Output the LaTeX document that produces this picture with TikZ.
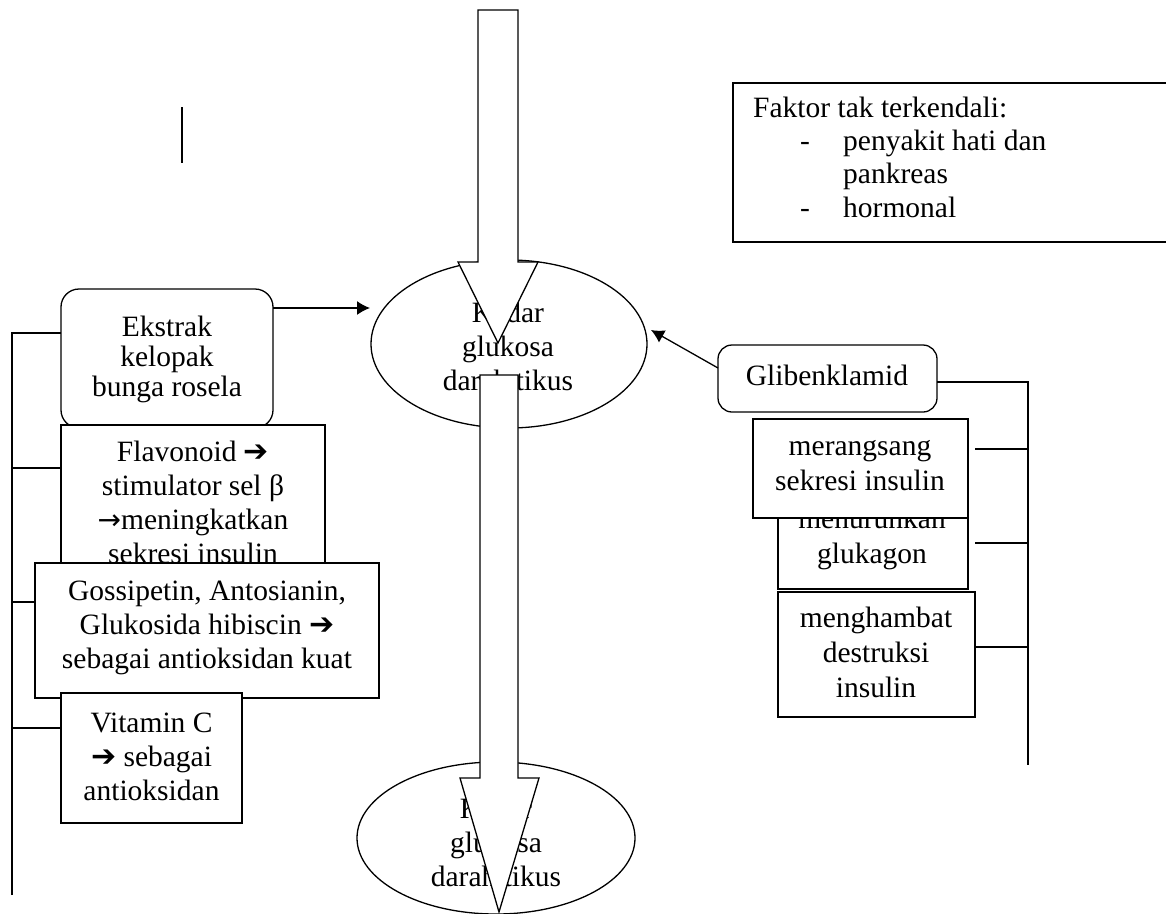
\documentclass[tikz,border=0pt]{standalone}
\usepackage{fontspec}
\setmainfont{Liberation Serif}
\newfontfamily\arrowfont{DejaVu Sans}
\usetikzlibrary{shapes.geometric,arrows.meta}
\newcommand\thickarr{{\arrowfont\fontsize{30}{34}\selectfont ➔}}
\newcommand\thinarr{{\arrowfont\fontsize{28}{34}\selectfont →}}
\tikzset{
  every node/.style={font=\fontsize{29.5}{34}\selectfont},
  box/.style={draw, fill=white, line width=1.3pt, inner sep=0pt, outer sep=0pt},
  rbox/.style={box, rounded corners=18pt},
  ell/.style={draw, fill=white, ellipse, line width=1.3pt, inner sep=0pt, outer sep=0pt},
  txt/.style={align=center, anchor=base, inner sep=0pt},
  ltxt/.style={anchor=base west, inner sep=0pt},
  ln/.style={line width=1.3pt},
  arr/.style={line width=1.3pt, -{Latex[length=13pt,width=14pt]}},
  bigarrow/.style={draw, fill=white, line width=1.3pt, line join=miter},
}
\begin{document}
\begin{tikzpicture}[x=1pt,y=-1pt]
\useasboundingbox (0,0) rectangle (1166,913);
\clip (0,0) rectangle (1166,913);
\fill[white] (0,0) rectangle (1166,913);

% short vertical line
\coordinate (s1) at (182,107);
\coordinate (s2) at (182,163);
\draw[ln] (s1) -- (s2);

% Faktor box
\node[box, minimum width=442pt, minimum height=159pt] (faktor) at (954,162.5) {};
\node[ltxt] (f1) at (753,117) {Faktor tak terkendali:};
\node[ltxt] (f2) at (800,150) {-};
\node[ltxt] (f3) at (843,150) {penyakit hati dan};
\node[ltxt] (f4) at (843,183) {pankreas};
\node[ltxt] (f5) at (800,217) {-};
\node[ltxt] (f6) at (843,217) {hormonal};

% ellipses (text anchor = baseline of last line)
\node[ell, minimum width=276pt, minimum height=168pt] (kadar1) at (509,344) {};
\node[txt] (k1t) at (508,390) {Kadar\\glukosa\\darah tikus};
\node[ell, minimum width=278pt, minimum height=152pt] (kadar2) at (496,838) {};
\node[txt] (k2t) at (496,886) {Kadar\\glukosa\\darah tikus};

% big arrows
\draw[bigarrow] (478,10) -- (518,10) -- (518,262) -- (538,262) -- (498,343) -- (458,262) -- (478,262) -- cycle;
\draw[bigarrow] (480,375) -- (518,375) -- (518,778) -- (539,778) -- (499,912) -- (460,778) -- (480,778) -- cycle;

% left side boxes
\node[rbox, minimum width=212pt, minimum height=139pt] (ekstrak) at (167,358.5) {};
\node[txt, font=\fontsize{29.5}{30}\selectfont] (ekt) at (167,396) {Ekstrak\\kelopak\\bunga rosela};
\node[box, minimum width=264pt, minimum height=185pt] (flav) at (193,517.5) {};
\node[txt, font=\fontsize{29.5}{33.7}\selectfont] (flt) at (193,563) {Flavonoid \thickarr\\stimulator sel β\\\thinarr meningkatkan\\sekresi insulin};
\node[box, minimum width=344pt, minimum height=135pt] (goss) at (207,630.5) {};
\node[txt] (gst) at (207,668) {Gossipetin, Antosianin,\\Glukosida hibiscin \thickarr\\sebagai antioksidan kuat};
\node[box, minimum width=181pt, minimum height=130pt] (vitc) at (151.5,758) {};
\node[txt] (vct) at (151.5,800) {Vitamin C\\\thickarr{} sebagai\\antioksidan};

% left bracket
\coordinate (lb1) at (12,333);
\coordinate (lb2) at (12,895);
\draw[ln] (lb2) -- (lb1) -- (ekstrak.west |- lb1);
\draw[ln] (12,468) coordinate (lt2) -- (flav.west |- lt2);
\draw[ln] (12,602) coordinate (lt3) -- (goss.west |- lt3);
\draw[ln] (12,728) coordinate (lt4) -- (vitc.west |- lt4);

% arrow ekstrak -> kadar
\coordinate (ea) at (370,308);
\draw[arr] (ekstrak.east |- ea) -- (ea);

% right side
\node[rbox, rounded corners=14pt, minimum width=219pt, minimum height=67pt] (glib) at (827.5,378.5) {};
\node[txt] (glt) at (827,385) {Glibenklamid};
\node[box, minimum width=190pt, minimum height=89pt] (turun) at (873,544.5) {};
\node[txt, font=\fontsize{29.5}{35}\selectfont] (tut) at (872,563) {menurunkan\\glukagon};
\node[box, minimum width=215pt, minimum height=99pt] (rangsang) at (860.5,468.5) {};
\node[txt, font=\fontsize{29.5}{35}\selectfont] (rat) at (860,490) {merangsang\\sekresi insulin};
\node[box, minimum width=197pt, minimum height=125pt] (hambat) at (876.5,654.5) {};
\node[txt, font=\fontsize{29.5}{35}\selectfont] (hat) at (876,697) {menghambat\\destruksi\\insulin};

% glib arrow
\coordinate (gs) at (718,368);
\coordinate (ge) at (651,330);
\draw[arr] (gs) -- (ge);

% right bracket
\coordinate (rb1) at (1028,382);
\coordinate (rb2) at (1028,765);
\draw[ln] (glib.east |- rb1) -- (rb1) -- (rb2);
\draw[ln] (975,449) coordinate (rt1) -- (rb1 |- rt1);
\draw[ln] (975,543) coordinate (rt2) -- (rb1 |- rt2);
\draw[ln] (hambat.east |- 0,647) coordinate (rt3) -- (rb1 |- rt3);
\end{tikzpicture}
\end{document}
